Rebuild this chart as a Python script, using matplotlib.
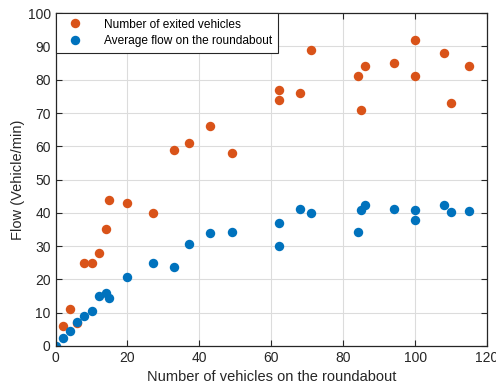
import matplotlib
matplotlib.use("Agg")
import matplotlib.pyplot as plt

plt.rcParams["font.family"] = ["Liberation Sans", "DejaVu Sans"]

# number of vehicles on the roundabout
x_exited = [2, 4, 6, 8, 10, 12, 14, 15, 20, 27, 33, 37, 43, 49, 62, 62, 68, 71,
            84, 85, 86, 94, 100, 100, 108, 110, 115]
y_exited = [6, 11, 7, 25, 25, 28, 35, 44, 43, 40, 59, 61, 66, 58, 77, 74, 76, 89,
            81, 71, 84, 85, 92, 81, 88, 73, 84]

x_flow = [0, 2, 4, 6, 8, 10, 12, 14, 15, 20, 27, 33, 37, 43, 49, 62, 62, 68, 71,
          84, 85, 86, 94, 100, 100, 108, 110, 115]
y_flow = [0, 2.5, 4.6, 7.3, 9, 10.6, 15, 15.8, 14.5, 20.6, 24.8, 23.8, 30.7, 34,
          34.2, 37.1, 30.1, 41.2, 40, 34.3, 41, 42.4, 41.3, 40.8, 38, 42.4, 40.3, 40.7]

fig = plt.figure(figsize=(4.96, 3.87), dpi=100)
ax = fig.add_axes([0.112, 0.106, 0.870, 0.860])

ax.plot(x_exited, y_exited, "o", color="#D95319", markersize=6.8, mec="none",
        label="Number of exited vehicles")
ax.plot(x_flow, y_flow, "o", color="#0072BD", markersize=6.8, mec="none",
        label="Average flow on the roundabout")

ax.set_xlim(0, 120)
ax.set_ylim(0, 100)
ax.set_xticks(range(0, 121, 20))
ax.set_yticks(range(0, 101, 10))
ax.grid(True, color="#dcdcdc", linewidth=0.8)
ax.set_axisbelow(True)
ax.tick_params(direction="in", top=True, right=True, labelsize=10,
               colors="#262626", length=4)
for s in ax.spines.values():
    s.set_color("#262626")
    s.set_linewidth(0.9)

ax.set_xlabel("Number of vehicles on the roundabout", fontsize=10.5, color="#262626")
ax.set_ylabel("Flow (Vehicle/min)", fontsize=10.5, color="#262626", labelpad=2)

leg = ax.legend(loc="upper left", fontsize=8.6, frameon=True, fancybox=False,
                borderaxespad=0, edgecolor="#262626", framealpha=1,
                handlelength=2.4, handletextpad=1.2, borderpad=0.45,
                labelspacing=0.4)
leg.get_frame().set_linewidth(0.8)

fig.savefig("out.png", dpi=100)
